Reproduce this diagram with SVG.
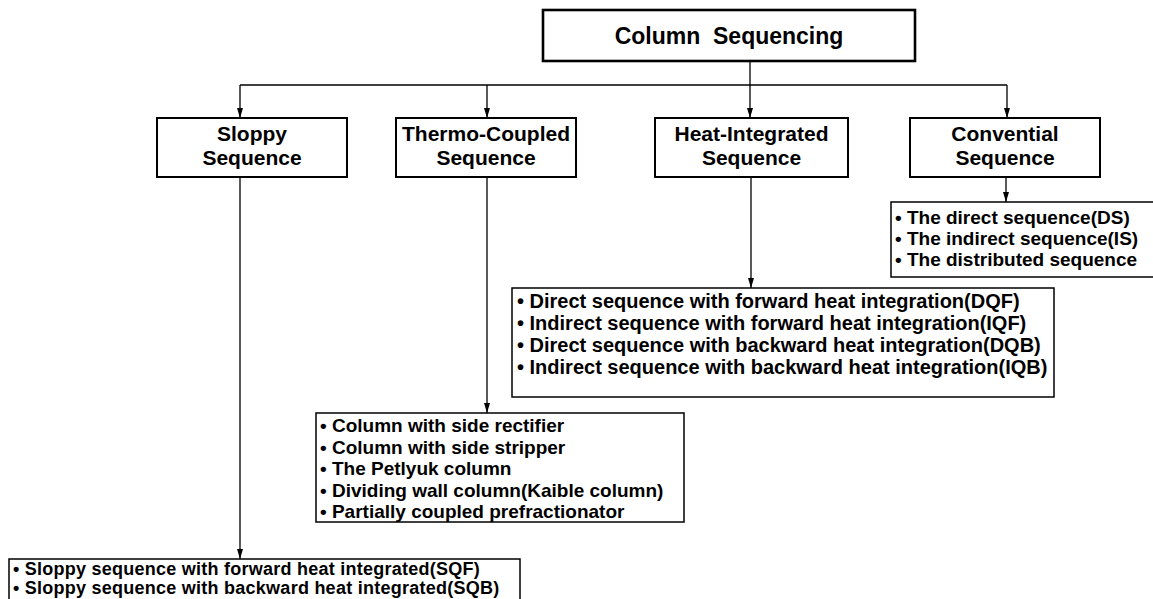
<svg xmlns="http://www.w3.org/2000/svg" width="1153" height="599" viewBox="0 0 1153 599">
<style>
  text { font-family: "Liberation Sans", Arial, sans-serif; font-weight: bold; fill: #000; }
  .title { font-size: 23px; text-anchor: middle; }
  .node { font-size: 21px; text-anchor: middle; }
  .item { font-size: 19px; }
  .item20 { font-size: 20px; }
  .item18 { font-size: 18px; letter-spacing: 0.25px; }
  .box { fill: #fff; stroke: #000; }
  .conn { fill: none; stroke: #000; stroke-width: 1.3; }
</style>
<defs>
  <marker id="ah" viewBox="0 0 10 6" refX="10" refY="3" markerWidth="10" markerHeight="6" markerUnits="userSpaceOnUse" orient="auto">
    <path d="M0,0 L10,3 L0,6 z" fill="#000"/>
  </marker>
</defs>
<rect width="1153" height="599" fill="#fff"/>

<g id="connectors">
  <path class="conn" d="M750,61 V118" marker-end="url(#ah)"/>
  <path class="conn" d="M240,85 H1007"/>
  <path class="conn" d="M240,85 V118" marker-end="url(#ah)"/>
  <path class="conn" d="M487,85 V118" marker-end="url(#ah)"/>
  <path class="conn" d="M1007,85 V118" marker-end="url(#ah)"/>
  <path class="conn" d="M240,177 V559" marker-end="url(#ah)"/>
  <path class="conn" d="M487,177 V413" marker-end="url(#ah)"/>
  <path class="conn" d="M751,177 V288" marker-end="url(#ah)"/>
  <path class="conn" d="M1006,177 V202" marker-end="url(#ah)"/>
</g>

<g id="root">
  <rect class="box" x="543" y="10" width="372" height="51" stroke-width="2.6"/>
  <text class="title" x="729" y="44">Column&#160; Sequencing</text>
</g>

<g id="sloppy">
  <rect class="box" x="157" y="118" width="190" height="59" stroke-width="2"/>
  <text class="node" x="252" y="141">Sloppy</text>
  <text class="node" x="252" y="165">Sequence</text>
</g>

<g id="thermo">
  <rect class="box" x="396" y="118" width="180" height="59" stroke-width="2"/>
  <text class="node" x="486" y="141">Thermo-Coupled</text>
  <text class="node" x="486" y="165">Sequence</text>
</g>

<g id="heat">
  <rect class="box" x="655" y="118" width="193" height="59" stroke-width="2"/>
  <text class="node" x="751.5" y="141">Heat-Integrated</text>
  <text class="node" x="751.5" y="165">Sequence</text>
</g>

<g id="conv">
  <rect class="box" x="910" y="118" width="190" height="59" stroke-width="2"/>
  <text class="node" x="1005" y="141">Convential</text>
  <text class="node" x="1005" y="165">Sequence</text>
</g>

<g id="conv-list">
  <rect class="box" x="891" y="202" width="270" height="75" stroke-width="1.5"/>
  <text class="item" x="895" y="224">• The direct sequence(DS)</text>
  <text class="item" x="895" y="245">• The indirect sequence(IS)</text>
  <text class="item" x="895" y="266">• The distributed sequence</text>
</g>

<g id="heat-list">
  <rect class="box" x="512" y="288" width="542" height="109" stroke-width="1.5"/>
  <text class="item20" x="517" y="308">• Direct sequence with forward heat integration(DQF)</text>
  <text class="item20" x="517" y="330">• Indirect sequence with forward heat integration(IQF)</text>
  <text class="item20" x="517" y="352">• Direct sequence with backward heat integration(DQB)</text>
  <text class="item20" x="517" y="374">• Indirect sequence with backward heat integration(IQB)</text>
</g>

<g id="thermo-list">
  <rect class="box" x="316" y="413" width="368" height="109" stroke-width="1.5"/>
  <text class="item" x="320" y="432">• Column with side rectifier</text>
  <text class="item" x="320" y="454">• Column with side stripper</text>
  <text class="item" x="320" y="475">• The Petlyuk column</text>
  <text class="item" x="320" y="497">• Dividing wall column(Kaible column)</text>
  <text class="item" x="320" y="518">• Partially coupled prefractionator</text>
</g>

<g id="sloppy-list">
  <rect class="box" x="9" y="559" width="511" height="60" stroke-width="1.5"/>
  <text class="item18" x="13" y="575">• Sloppy sequence with forward heat integrated(SQF)</text>
  <text class="item18" x="13" y="594">• Sloppy sequence with backward heat integrated(SQB)</text>
</g>
</svg>
